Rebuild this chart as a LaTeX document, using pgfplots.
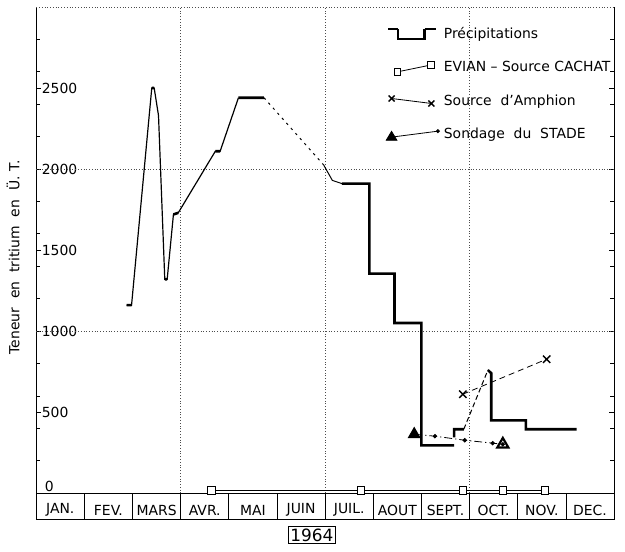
\documentclass[border=0pt]{standalone}
\usepackage{fontspec}
\setmainfont{DejaVu Sans}
\usepackage{pgfplots}
\pgfplotsset{compat=1.18}
\begin{document}
\begin{tikzpicture}
\begin{axis}[
  width=290.5pt, height=257.5pt, scale only axis, clip=false,
  xmin=0, xmax=12, ymin=-160, ymax=3000,
  axis line style={draw=none},
  xtick={0.5,1.5,2.5,3.5,4.5,5.5,6.5,7.5,8.5,9.5,10.5,11.5},
  xticklabels={JAN.,FEV.,MARS,AVR.,MAI,JUIN,JUIL.,AOUT,SEPT.,OCT.,NOV.,DEC.},
  xtick style={draw=none},
  xticklabel style={anchor=center, yshift=4.6pt},
  ytick={500,1000,1500,2000,2500},
  minor ytick={200,400,600,800,1200,1400,1600,1800,2200,2400,2600,2800},
  ytick style={black, thin}, major tick length=2.5pt, minor tick length=1.8pt,
  yticklabel style={anchor=west, xshift=-0.7pt},
  extra y ticks={0},
  extra y tick style={major tick length=0pt, tick label style={yshift=3.5pt, xshift=1.5pt}},
  tick label style={font=\fontsize{7}{8}\selectfont},
  /pgf/number format/assume math mode=true,
  /pgf/number format/1000 sep={},
  ylabel={Teneur\ \ en\ \ tritium\ \ en\ \ Ü.\ T.},
  ylabel style={at={(axis description cs:-0.04,0.511)}, anchor=center, font=\fontsize{7}{8}\selectfont},
  xlabel={1964},
  xlabel style={at={(axis description cs:0.477,0)}, anchor=center, yshift=-8pt, draw, thin, inner sep=1.2pt, font=\fontsize{8.5}{9}\selectfont},
  legend style={at={(0.594,0.977)}, anchor=north west, draw=none, fill=none,
    font=\fontsize{7}{8}\selectfont, row sep=6.1pt},
  legend cell align=left,
  unbounded coords=jump,
]
% frame, month row and grid
\draw[thin] (0,-160) -- (0,3000);
\draw[thin] (0,-160) -- (12,-160) -- (12,3000);
\draw[thin] (0,0) -- (12,0);
\pgfplotsinvokeforeach{1,...,11}{\draw[thin] (#1,-160) -- (#1,0);}
\draw[black!70, densely dotted] (0,3000) -- (12,3000);
\draw[black!70, densely dotted] (0,1000) -- (12,1000);
\draw[black!70, densely dotted] (0,2000) -- (12,2000);
\pgfplotsinvokeforeach{3,6,9}{\draw[black!70, densely dotted] (#1,0) -- (#1,3000);}

% Precipitations: thin connecting line
\addplot[black, line width=0.6pt, forget plot] coordinates {
  (1.88,1160) (1.98,1160) (2.40,2500) (2.45,2500) (2.54,2330) (2.67,1320)
  (2.72,1320) (2.85,1720) (2.95,1730) (3.72,2110) (3.82,2110) (4.20,2440)};
\addplot[black, line width=0.5pt, dash pattern=on 1.2pt off 2.2pt, forget plot] coordinates {
  (4.73,2440) (5.97,2025)};
\addplot[black, line width=0.5pt, forget plot] coordinates {
  (5.97,2025) (6.15,1930) (6.35,1910)};
\addplot[black, line width=0.5pt, dash pattern=on 2.5pt off 1.5pt, forget plot] coordinates {
  (8.88,395) (9.38,760)};
% Precipitations: thick steps
\addplot[black, line width=1.3pt, forget plot] coordinates {
  (1.88,1160) (1.98,1160) (2,nan)
  (2.40,2500) (2.45,2500) (2.5,nan)
  (2.67,1320) (2.72,1320) (2.8,nan)
  (2.85,1720) (2.95,1730) (3,nan)
  (3.72,2110) (3.82,2110) (3.9,nan)
  (4.20,2440) (4.73,2440) (5,nan)
  (6.35,1910) (6.92,1910) (6.92,1355) (7.44,1355) (7.44,1050) (8.0,1050)
  (8.0,295) (8.68,295) (8.7,nan)
  (8.68,345) (8.68,395) (8.88,395) (9,nan)
  (9.38,760) (9.45,740) (9.45,450) (10.17,450) (10.17,395) (11.22,395)};

% EVIAN - Source CACHAT
\addplot[black, thin, mark=square*, mark size=1.9pt,
  mark options={fill=white, solid}, forget plot] coordinates {
  (3.64,18) (6.74,18) (8.86,18) (9.69,18) (10.56,18)};
% Source d'Amphion
\addplot[black, thin, dash pattern=on 3pt off 2pt, mark=x, mark size=2.6pt,
  mark options={solid, line width=0.7pt}, forget plot] coordinates {
  (8.86,611) (10.60,827)};
% Sondage du STADE
\addplot[black, thin, dash pattern=on 4pt off 1.5pt on 0.6pt off 1.5pt,
  mark=*, mark size=0.9pt, mark options={solid}, forget plot] coordinates {
  (7.85,364) (8.28,352) (8.90,327) (9.48,309) (9.69,302)};
\addplot[only marks, mark=triangle*, mark size=3.4pt, black, forget plot] coordinates {
  (7.85,364)};
\addplot[only marks, mark=triangle, mark size=3.2pt, black, line width=1.1pt, forget plot] coordinates {
  (9.69,302)};

% legend
\addlegendimage{legend image code/.code={
  \draw[line width=0.7pt] (0pt,2.5pt) -- (5pt,2.5pt);
  \draw[line width=1.2pt] (5pt,2.5pt) -- (5pt,-2.5pt) -- (18.3pt,-2.5pt) -- (18.3pt,2.5pt);
  \draw[line width=0.7pt] (18.3pt,2.5pt) -- (24pt,2.5pt);}}
\addlegendentry{Précipitations}
\addlegendimage{legend image code/.code={
  \draw[thin] (4.5pt,-2pt) -- (21.5pt,1.5pt);
  \draw[thin, fill=white] (2.9pt,-3.6pt) rectangle (6.1pt,-0.4pt);
  \draw[thin, fill=white] (19.9pt,-0.1pt) rectangle (23.1pt,3.1pt);}}
\addlegendentry{EVIAN -- Source CACHAT}
\addlegendimage{legend image code/.code={
  \draw[thin] (1.7pt,1.5pt) -- (21.7pt,-1pt);
  \draw[line width=0.7pt] (1.7pt,1.5pt) +(-1.5pt,-1.5pt) -- +(1.5pt,1.5pt) +(-1.5pt,1.5pt) -- +(1.5pt,-1.5pt);
  \draw[line width=0.7pt] (21.7pt,-1pt) +(-1.5pt,-1.5pt) -- +(1.5pt,1.5pt) +(-1.5pt,1.5pt) -- +(1.5pt,-1.5pt);}}
\addlegendentry{Source\ \ d’Amphion}
\addlegendimage{legend image code/.code={
  \draw[thin] (1.7pt,-1pt) -- (25pt,2pt);
  \fill (25pt,2pt) circle (0.8pt);
  \fill (1.7pt,1.9pt) -- (-1.0pt,-2.6pt) -- (4.4pt,-2.6pt) -- cycle;}}
\addlegendentry{Sondage\ \ du\ \ STADE}
\end{axis}
\path (current axis.south west) +(-16.5pt,-16pt) (current axis.north east) +(5.5pt,3.5pt);
\end{tikzpicture}
\end{document}
